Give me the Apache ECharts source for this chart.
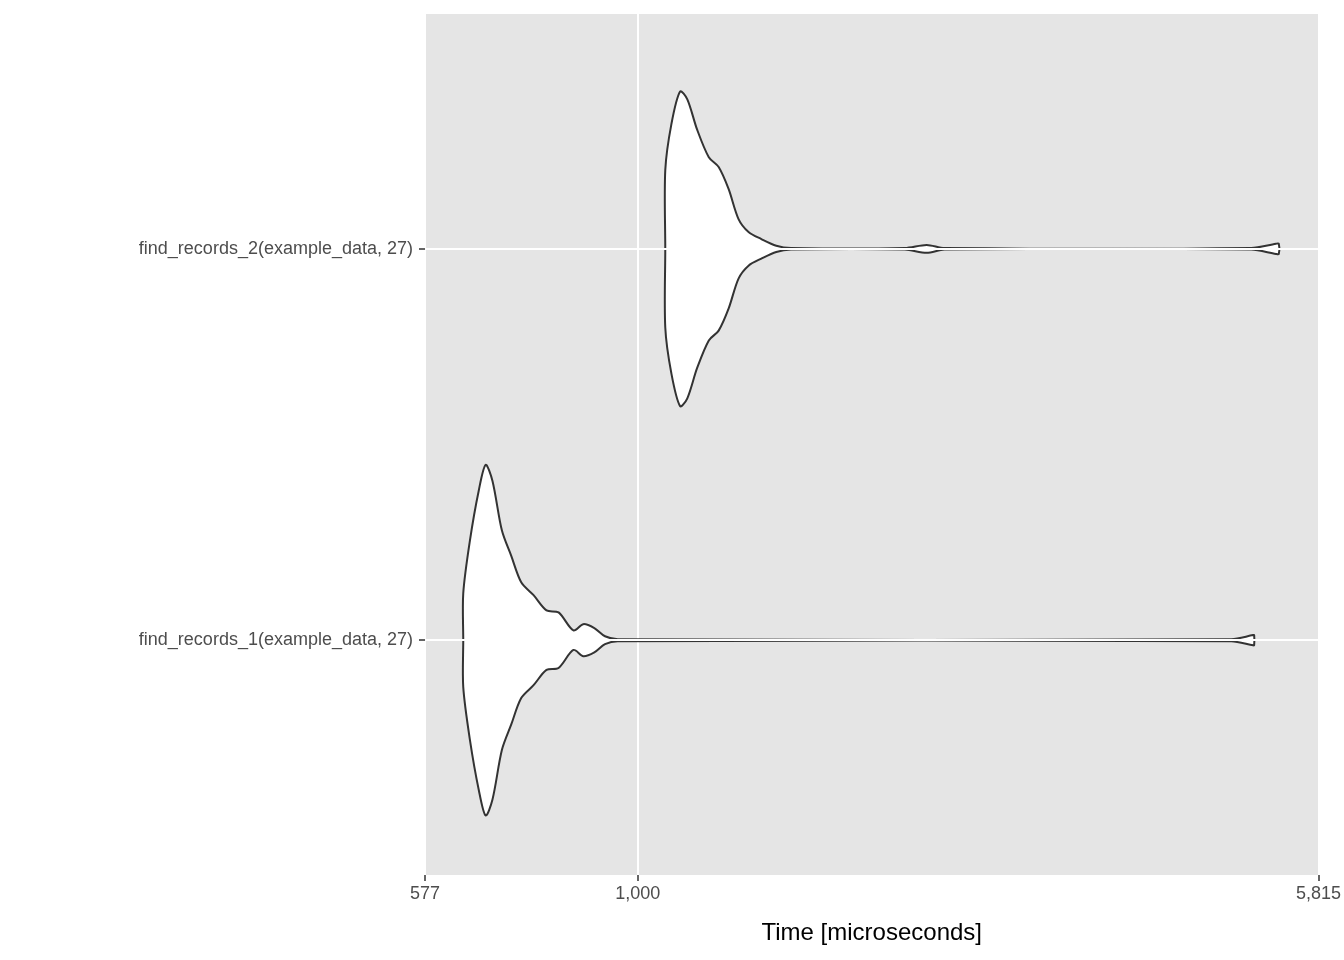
<!DOCTYPE html>
<html>
<head>
<meta charset="utf-8">
<script src="https://cdn.jsdelivr.net/npm/echarts@6/dist/echarts.min.js"></script>
<style>html,body{margin:0;padding:0;background:#fff}#container{width:1344px;height:960px}</style>
</head>
<body>
<div id="container"></div>
<script>
var categories = ['find_records_1(example_data, 27)', 'find_records_2(example_data, 27)'];
// time in microseconds along the violin outline, and half-width (in category bands)
var v1Time = [637, 637, 648, 663, 675, 687, 704, 721, 740, 764, 790, 815, 847, 869, 894, 919, 950, 4642, 4911, 4924];
var v1Width = [0, 0.12, 0.254, 0.382, 0.448, 0.407, 0.28, 0.216, 0.148, 0.115, 0.076, 0.071, 0.025, 0.041, 0.031, 0.01, 0.0025, 0.0025, 0.013, 0.013];
var v2Time = [1074, 1074, 1091, 1116, 1137, 1166, 1202, 1233, 1265, 1298, 1332, 1377, 1431, 1487, 1995, 2111, 2211, 4886, 5210, 5248];
var v2Width = [0, 0.201, 0.318, 0.402, 0.382, 0.305, 0.234, 0.209, 0.153, 0.076, 0.043, 0.025, 0.008, 0.002, 0.002, 0.01, 0.002, 0.002, 0.013, 0.013];

var violins = [{ t: v1Time, w: v1Width, c: 1 }, { t: v2Time, w: v2Width, c: 2 }];

var myChart = echarts.init(document.getElementById('container'), null, { renderer: 'canvas' });

var option = {
  animation: false,
  grid: {
    left: 425, right: 16, top: 14, bottom: 85,
    show: true, backgroundColor: '#e5e5e5', borderWidth: 0
  },
  xAxis: {
    type: 'log', logBase: 10, min: 577, max: 5815,
    name: 'Time [microseconds]', nameLocation: 'middle', nameGap: 46,
    nameTextStyle: { fontSize: 24, color: '#000', fontFamily: 'Liberation Sans' },
    axisLine: { show: false },
    axisTick: { show: true, length: 6, lineStyle: { color: '#333', width: 1.5 } },
    axisLabel: { fontSize: 18, color: '#4d4d4d', margin: 10, fontFamily: 'Liberation Sans' },
    splitLine: { show: true, lineStyle: { color: '#fff', width: 2 } },
    minorTick: { show: false }, minorSplitLine: { show: false }
  },
  yAxis: {
    type: 'value', min: 0.4, max: 2.6,
    axisLine: { show: false },
    axisTick: { show: true, length: 6, customValues: [1, 2], lineStyle: { color: '#333', width: 1.5 } },
    axisLabel: {
      customValues: [1, 2], fontSize: 18, color: '#4d4d4d', margin: 12, fontFamily: 'Liberation Sans',
      formatter: function (v) { return categories[Math.round(v) - 1] || ''; }
    },
    splitLine: { show: false }
  },
  series: [{
    type: 'custom',
    data: [[1000, 1], [1000, 2]],
    encode: { x: 0, y: 1 },
    clip: true,
    markLine: {
      silent: true, symbol: 'none', label: { show: false },
      lineStyle: { color: '#fff', width: 2, type: 'solid' },
      data: [{ yAxis: 1 }, { yAxis: 2 }]
    },
    renderItem: function (params, api) {
      var v = violins[params.dataIndex];
      var upper = [], lower = [];
      for (var i = 0; i < v.t.length; i++) {
        upper.push(api.coord([v.t[i], v.c + v.w[i]]));
        lower.push(api.coord([v.t[i], v.c - v.w[i]]));
      }
      var pts = upper.concat(lower.reverse());
      return {
        type: 'polygon',
        z2: 10,
        shape: { points: pts, smooth: 0.3 },
        style: { fill: '#fff', stroke: '#333', lineWidth: 2 }
      };
    }
  }]
};

myChart.setOption(option);
window.addEventListener('resize', myChart.resize);
</script>
</body>
</html>
